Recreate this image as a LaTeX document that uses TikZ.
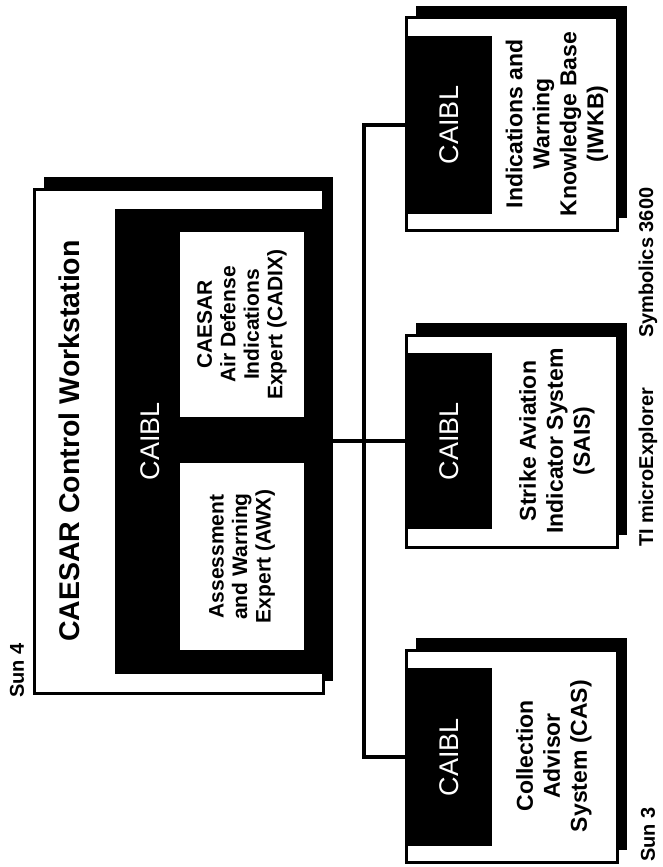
\documentclass[tikz,border=0pt]{standalone}
\usepackage{fontspec}
\setmainfont{Liberation Sans}
\usetikzlibrary{shadows, positioning}

\begin{document}
\begin{tikzpicture}[x=1pt, y=-1pt,
    panel/.style={draw=black, line width=3pt, fill=white, inner sep=0pt,
      general shadow={fill=black, shadow xshift=10pt, shadow yshift=12pt}},
    caiblbox/.style={fill=black, inner sep=0pt},
    caibltext/.style={rotate=90, text=white, inner sep=0pt,
      font=\fontsize{27}{30}\selectfont},
    whitebox/.style={fill=white, inner sep=0pt},
    boxtext/.style={rotate=90, align=center, inner sep=0pt,
      font=\bfseries\fontsize{23}{27}\selectfont},
    subtext/.style={boxtext, font=\bfseries\fontsize{21}{23.5}\selectfont},
    hostlabel/.style={rotate=90, anchor=west, inner sep=0pt,
      font=\bfseries\fontsize{20}{24}\selectfont},
    link/.style={line width=3.5pt}]
  \useasboundingbox (0,0) rectangle (663,867);

  % Sun 4 workstation
  \node[panel, minimum width=289pt, minimum height=504pt] (sunfour) at (178.5,441) {};
  \node[caiblbox, minimum width=208pt, minimum height=465pt] (maincaibl) at (219,441) {};
  \node[caibltext] (maincaibltext) at (150,441) {CAIBL};
  \node[whitebox, minimum width=124pt, minimum height=185pt] (cadix) at (242,324.5) {};
  \node[subtext] (cadixtext) at (cadix) {CAESAR\\Air Defense\\Indications\\Expert (CADIX)};
  \node[whitebox, minimum width=124pt, minimum height=187pt] (awx) at (242,556.5) {};
  \node[subtext] (awxtext) at (awx) {Assessment\\and Warning\\Expert (AWX)};
  \node[rotate=90, inner sep=0pt, font=\bfseries\fontsize{28.5}{32}\selectfont]
    (title) at (69,441) {CAESAR Control Workstation};
  \node[hostlabel] (sunfourlabel) at (17,698) {Sun 4};

  % remote systems
  \node[panel, minimum width=211pt, minimum height=212pt] (iwkb) at (511.5,124) {};
  \node[caiblbox, minimum width=86pt, minimum height=178pt,
    label={[caibltext]center:CAIBL}] (iwkbcaibl) at (449,125) {};
  \node[boxtext] (iwkbtext) at (557,124) {Indications and\\Warning\\Knowledge Base\\(IWKB)};
  \node[hostlabel] (iwkblabel) at (648,338) {Symbolics 3600};

  \node[panel, minimum width=211pt, minimum height=212pt] (sais) at (511.5,441) {};
  \node[caiblbox, minimum width=86pt, minimum height=176pt,
    label={[caibltext]center:CAIBL}] (saiscaibl) at (449,441) {};
  \node[boxtext] (saistext) at (557,441) {Strike Aviation\\Indicator System\\(SAIS)};
  \node[hostlabel] (saislabel) at (648,547) {TI microExplorer};

  \node[panel, minimum width=211pt, minimum height=212pt] (cas) at (511.5,756) {};
  \node[caiblbox, minimum width=86pt, minimum height=178pt,
    label={[caibltext]center:CAIBL}] (cascaibl) at (449,757) {};
  \node[boxtext] (castext) at (554,756) {Collection\\Advisor\\System (CAS)};
  \node[hostlabel] (caslabel) at (648,862) {Sun 3};

  % network
  \coordinate (hub) at (364,441);
  \draw[link] (maincaibl.east) -- (saiscaibl.west);
  \draw[link] (iwkbcaibl.west) -| (hub) |- (cascaibl.west);
\end{tikzpicture}
\end{document}
